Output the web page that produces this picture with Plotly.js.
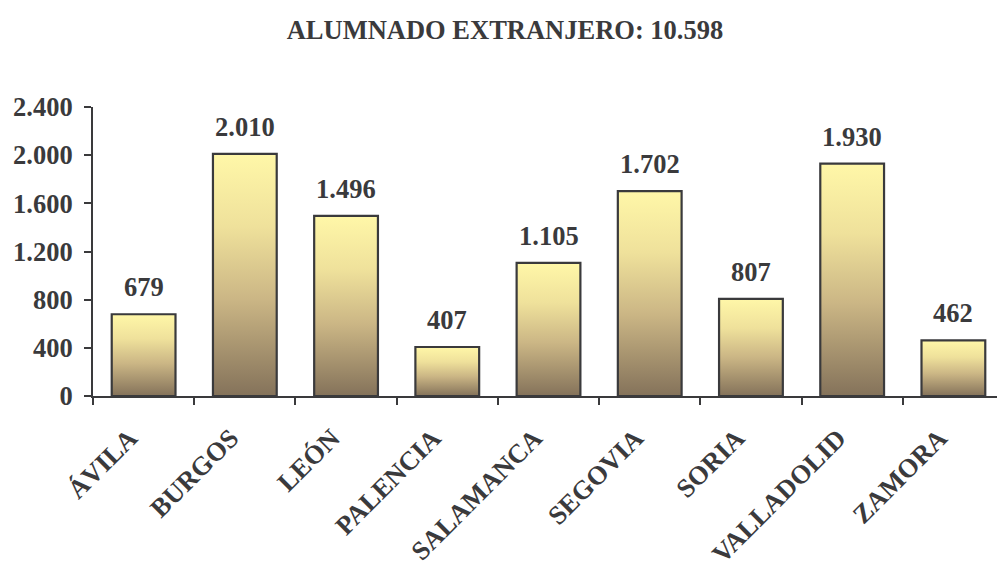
<!DOCTYPE html>
<html>
<head>
<meta charset="utf-8">
<script src="https://cdn.plot.ly/plotly-3.0.1.min.js"></script>
<style>
html,body{margin:0;padding:0;overflow:hidden;background:#fff;}
#chart{width:1010px;height:563px;}
</style>
</head>
<body>
<div id="chart"></div>
<script>
const categories = ["ÁVILA","BURGOS","LEÓN","PALENCIA","SALAMANCA","SEGOVIA","SORIA","VALLADOLID","ZAMORA"];
const values = [679, 2010, 1496, 407, 1105, 1702, 807, 1930, 462];
const titleText = "ALUMNADO EXTRANJERO: 10.598";
const yTickVals = [0, 400, 800, 1200, 1600, 2000, 2400];

function fmt(v){ return String(v).replace(/\B(?=(\d{3})+(?!\d))/g, "."); }

const ink = "#3a3a3c";
const fontBase = {family: "Liberation Serif", size: 26.5, color: ink, weight: "bold"};

const trace = {
  type: "bar",
  x: categories,
  y: values,
  marker: {color: "#d8c68c", line: {color: ink, width: 2.2}},
  hoverinfo: "none"
};

const annotations = categories.map((c, i) => ({
  x: c, y: values[i], xref: "x", yref: "y",
  text: fmt(values[i]), showarrow: false,
  yanchor: "bottom", yshift: 10,
  font: fontBase
}));

const layout = {
  width: 1010, height: 563,
  margin: {l: 93, r: 6, t: 107, b: 167},
  paper_bgcolor: "#fff", plot_bgcolor: "#fff",
  separators: ",.",
  font: fontBase,
  showlegend: false,
  bargap: 0.37,
  title: {
    text: titleText,
    font: fontBase,
    xref: "container", x: 0.5, xanchor: "center",
    yref: "container", y: 1 - 30/563, yanchor: "middle"
  },
  xaxis: {
    type: "category",
    showline: true, linecolor: ink, linewidth: 2,
    ticks: "outside", tickson: "boundaries", ticklen: 7, tickwidth: 2, tickcolor: ink,
    tickangle: -45,
    ticklabelstandoff: 14, ticklabelshift: -14,
    tickfont: fontBase,
    showgrid: false, zeroline: false
  },
  yaxis: {
    range: [0, 2400],
    tickvals: yTickVals,
    ticktext: yTickVals.map(fmt),
    showline: true, linecolor: ink, linewidth: 2,
    ticks: "outside", ticklen: 7, tickwidth: 2, tickcolor: ink,
    ticklabelstandoff: 6,
    tickfont: fontBase,
    showgrid: false, zeroline: false
  },
  annotations: annotations
};

Plotly.newPlot("chart", [trace], layout, {displayModeBar: false, staticPlot: true}).then(gd => {
  const svg = gd.querySelector("svg.main-svg");
  const ns = "http://www.w3.org/2000/svg";
  let defs = svg.querySelector("defs");
  if (!defs) { defs = document.createElementNS(ns, "defs"); svg.insertBefore(defs, svg.firstChild); }
  const grad = document.createElementNS(ns, "linearGradient");
  grad.setAttribute("id", "bargrad");
  grad.setAttribute("x1", "0"); grad.setAttribute("y1", "0");
  grad.setAttribute("x2", "0"); grad.setAttribute("y2", "1");
  [["0%","#fff7a8"],["30%","#efe19b"],["60%","#cbb685"],["100%","#84725a"]].forEach(([o,c]) => {
    const s = document.createElementNS(ns, "stop");
    s.setAttribute("offset", o); s.setAttribute("stop-color", c);
    grad.appendChild(s);
  });
  defs.appendChild(grad);
  gd.querySelectorAll(".trace.bars .point path").forEach(p => { p.style.fill = "url(#bargrad)"; });
});
</script>
</body>
</html>
